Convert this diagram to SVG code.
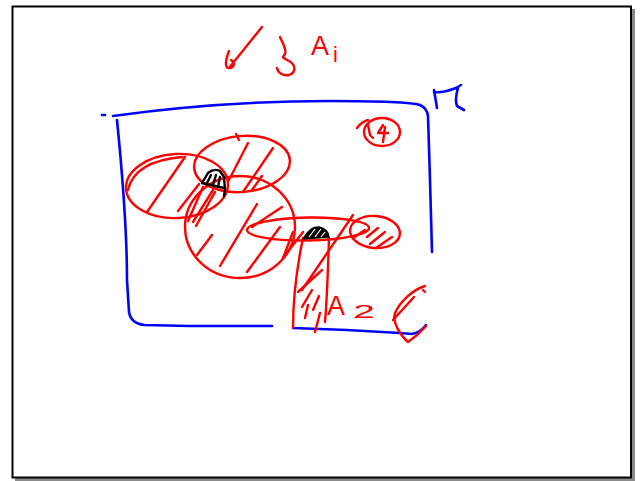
<svg xmlns="http://www.w3.org/2000/svg" width="640" height="481" viewBox="0 0 640 481">
<style>
.r{fill:none;stroke:#ff0000;stroke-width:2.4;stroke-linecap:round;stroke-linejoin:round}
.b{fill:none;stroke:#0000ff;stroke-width:2.6;stroke-linecap:round;stroke-linejoin:round}
.k{fill:none;stroke:#000000;stroke-width:2.4;stroke-linecap:round;stroke-linejoin:round}
.t{font-family:"Liberation Sans",Arial,sans-serif;fill:#ff0000}
</style>
<rect x="0" y="0" width="640" height="481" fill="#ffffff"/>
<g id="frame">
<rect x="631" y="9" width="4" height="472" fill="#8a8a8a"/>
<rect x="15" y="478" width="620" height="3" fill="#8a8a8a"/>
<rect x="12.5" y="6.5" width="618.5" height="471" fill="none" stroke="#000" stroke-width="2"/>
</g>
<g id="title">
<path class="r" d="M229,51 C226,59 224,68 229,68 C234,68 236,63 231,60 M229,68 L262,27"/>
<path class="r" d="M280,37 C283,44 287,50 285,54 C283,57 281,57 287,60 C296,64 297,72 289,75 C283,76 278,73 277,68"/>
<text class="t" x="311" y="55" font-size="27">A</text>
<text class="t" x="333" y="62" font-size="22">i</text>
</g>
<g id="universe">
<path class="b" d="M102,115 L105,115"/>
<path class="b" d="M113,116 C170,108 250,101 330,101 C380,101 410,102 420,105 Q427,108 428,116 L430,180 L432,252"/>
<path class="b" d="M117,120 C122,170 127,230 127,280 L129,312 Q131,324 145,325 L190,326 L272,326"/>
<path class="b" d="M293,328 C330,329 370,331 400,333 L412,334 Q420,333 426,325"/>
<path class="b" d="M434,90 L437,108 M434,92 C440,93 448,91 456,88 L461,85 M458,88 C456,95 455,101 457,106 L464,110"/>
</g>
<g id="set-a">
<ellipse class="r" cx="177" cy="186" rx="51" ry="32" transform="rotate(-3 177 186)"/>
<path class="r" d="M128,190 C132,172 148,160 182,157"/>
<path class="r" d="M185,157 L147,212 M199,184 L178,211 M203,187 L188,221 M213,190 L193,222"/>
</g>
<g id="set-b">
<ellipse class="r" cx="242" cy="164" rx="48" ry="28" transform="rotate(-5 242 164)"/>
<path class="r" d="M236,134 L239,140"/>
<path class="r" d="M248,143 L229,180 M273,148 L243,192 M262,176 L252,190"/>
</g>
<g id="set-c">
<ellipse class="r" cx="240" cy="227" rx="55" ry="51"/>
<path class="r" d="M257,204 L220,266 M212,235 L197,255 M280,227 L247,272 M282,207 L252,227 M293,232 L283,258 M215,192 L196,226 M303,232 L283,258"/>
</g>
<g id="set-d">
<ellipse class="r" cx="308" cy="229" rx="61" ry="11.5" transform="rotate(-1 308 229)"/>
<path class="r" d="M353,215 L302,290"/>
</g>
<g id="set-e">
<ellipse class="r" cx="375" cy="232" rx="25" ry="16" transform="rotate(5 375 232)"/>
<path class="r" d="M378,228 L367,237 M385,232 L370,244 M392,237 L376,248 M365,230 L353,238"/>
</g>
<g id="set-f">
<path class="r" d="M303,238 C298,262 293,292 293,328 M329,238 C328,270 327,300 325,322"/>
<path class="r" d="M322,270 L298,292 M312,290 L302,307 M308,305 L305,318 M320,313 L315,332 M319,296 L313,310"/>
</g>
<g id="intersection-1">
<path class="k" d="M202,183 L208,173 Q214,168 220,171 L224,177 L225,190 L224,196 M202,183 L224,188"/>
<path class="k" stroke-width="1.6" d="M207,183 L211,175 M213,185 L216,175 M218,187 L220,177"/>
</g>
<g id="intersection-2">
<path d="M303,239 Q310,226 319,227 Q328,229 329,237 Z" fill="#000" stroke="#000" stroke-width="1.5" stroke-linejoin="round"/>
<path d="M309,237 L315,229 M315,237 L321,229 M321,237 L325,232" stroke="#ffffff" stroke-width="1.2" fill="none"/>
</g>
<g id="label-a2">
<text class="t" x="327" y="315" font-size="27">A</text>
<text class="t" x="353" y="318" font-size="18" textLength="22" lengthAdjust="spacingAndGlyphs">2</text>
</g>
<g id="small-circle">
<ellipse class="r" cx="382" cy="132" rx="18" ry="14"/>
<path class="r" d="M357,128 C360,124 364,121 368,120"/>
<path class="r" stroke-width="2" d="M368,125 L370,135 L373,138 M383,125 L378,133 L388,133 M385,127 L383,142"/>
</g>
<g id="partial-set">
<path class="r" d="M425,286 C412,290 400,302 395,313 C392,322 400,335 408,342 C414,338 420,333 426,326"/>
<path class="r" d="M414,297 L393,320 M423,290 L425,292"/>
</g>
</svg>
